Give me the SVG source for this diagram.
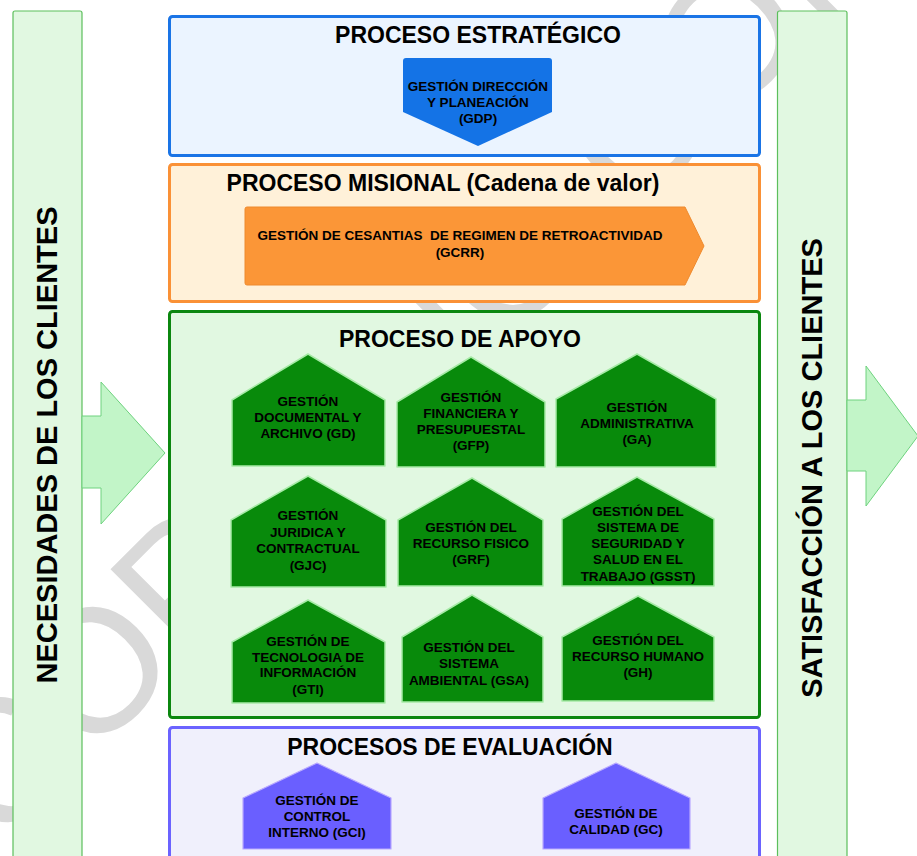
<svg xmlns="http://www.w3.org/2000/svg" width="917" height="856" viewBox="0 0 917 856">
<defs>
<style>
.t{font-family:"Liberation Sans",Arial,sans-serif;font-weight:bold;fill:#000;text-anchor:middle}
.title{font-size:23px}
.lbl{font-size:13.5px}
.side{font-size:29px}
.bar{fill:#e1f8e1;stroke:#5cbf5c;stroke-width:1.2}
.arr{fill:#c2f5c8;stroke:#6ed27e;stroke-width:1}
.house{fill:#088a0b;stroke:#a6eaa6;stroke-width:1.5;stroke-linejoin:round}
.ehouse{fill:#6a5fff;stroke:#b9a9ff;stroke-width:1.2;stroke-linejoin:round}
.wm{font-family:"Liberation Sans",Arial,sans-serif;font-size:175px;fill:#d9d9d9}
</style>
</defs>
<rect width="917" height="856" fill="#fff"/>
<g id="watermark">
<text class="wm" transform="translate(0,850) rotate(-45)">COPIA NO CONTROLADA</text>
</g>
<g id="necesidades">
<rect class="bar" x="13" y="11" width="69" height="860" rx="2"/>
<text class="t side" transform="translate(57,445) rotate(-90)">NECESIDADES DE LOS CLIENTES</text>
</g>
<g id="satisfaccion">
<rect class="bar" x="777.5" y="11" width="69.5" height="860" rx="2"/>
<text class="t side" transform="translate(822,468) rotate(-90)">SATISFACCIÓN A LOS CLIENTES</text>
</g>
<g id="connectors">
<path class="arr" d="M82,416 H101 V382 L165,453 L101,524 V488 H82 Z"/>
<path class="arr" d="M847,400 H866 V366 L918,436 L866,506 V471 H847 Z"/>
</g>
<g id="estrategico">
<rect x="169.5" y="16.5" width="590" height="139" rx="3" fill="#ebf4ff" stroke="#1a74e6" stroke-width="3"/>
<text class="t title" x="478" y="43">PROCESO ESTRATÉGICO</text>
<g id="gdp">
<path d="M406,58 H549 Q552,58 552,61 V112 L478,146 L403,112 V61 Q403,58 406,58 Z" fill="#1473e6"/>
<text class="t lbl" x="478" y="91">GESTIÓN DIRECCIÓN</text>
<text class="t lbl" x="478" y="107">Y PLANEACIÓN</text>
<text class="t lbl" x="478" y="123">(GDP)</text>
</g>
</g>
<g id="misional">
<rect x="169.5" y="164.5" width="590" height="137" rx="3" fill="#fff1d9" stroke="#fa9136" stroke-width="3"/>
<text class="t title" x="443" y="191">PROCESO MISIONAL (Cadena de valor)</text>
<g id="gcrr">
<path d="M247,207 H685 L704,246 L685,285 H247 Q245,285 245,283 V209 Q245,207 247,207 Z" fill="#fb9637" stroke="#ee8a2e" stroke-width="1"/>
<text class="t lbl" x="460" y="240" xml:space="preserve">GESTIÓN DE CESANTIAS  DE REGIMEN DE RETROACTIVIDAD</text>
<text class="t lbl" x="460" y="257">(GCRR)</text>
</g>
</g>
<g id="apoyo">
<rect x="169.5" y="311.5" width="590" height="406" rx="3" fill="#e1f8e1" stroke="#0b870f" stroke-width="3"/>
<text class="t title" x="460" y="347">PROCESO DE APOYO</text>
<g id="gd">
<path class="house" d="M232,400 L308,354 L385,400 V466 H232 Z"/>
<text class="t lbl" x="308" y="406">GESTIÓN</text>
<text class="t lbl" x="308" y="422">DOCUMENTAL Y</text>
<text class="t lbl" x="308" y="438">ARCHIVO (GD)</text>
</g>
<g id="gfp">
<path class="house" d="M397,402 L471,357 L545,402 V467 H397 Z"/>
<text class="t lbl" x="471" y="402">GESTIÓN</text>
<text class="t lbl" x="471" y="418">FINANCIERA Y</text>
<text class="t lbl" x="471" y="434">PRESUPUESTAL</text>
<text class="t lbl" x="471" y="450">(GFP)</text>
</g>
<g id="ga">
<path class="house" d="M556,399 L637,354 L716,399 V467 H556 Z"/>
<text class="t lbl" x="637" y="412">GESTIÓN</text>
<text class="t lbl" x="637" y="428">ADMINISTRATIVA</text>
<text class="t lbl" x="637" y="444">(GA)</text>
</g>
<g id="gjc">
<path class="house" d="M231,520 L308,476 L386,520 V587 H231 Z"/>
<text class="t lbl" x="308" y="520">GESTIÓN</text>
<text class="t lbl" x="308" y="537">JURIDICA Y</text>
<text class="t lbl" x="308" y="553">CONTRACTUAL</text>
<text class="t lbl" x="308" y="570">(GJC)</text>
</g>
<g id="grf">
<path class="house" d="M398,520 L472,478 L543,520 V586 H398 Z"/>
<text class="t lbl" x="471" y="532">GESTIÓN DEL</text>
<text class="t lbl" x="471" y="548">RECURSO FISICO</text>
<text class="t lbl" x="471" y="564">(GRF)</text>
</g>
<g id="gsst">
<path class="house" d="M562,519 L637,477 L714,519 V586 H562 Z"/>
<text class="t lbl" x="638" y="516">GESTIÓN DEL</text>
<text class="t lbl" x="638" y="532">SISTEMA DE</text>
<text class="t lbl" x="638" y="548">SEGURIDAD Y</text>
<text class="t lbl" x="638" y="564">SALUD EN EL</text>
<text class="t lbl" x="638" y="581">TRABAJO (GSST)</text>
</g>
<g id="gti">
<path class="house" d="M232,642 L308,600 L385,642 V703 H232 Z"/>
<text class="t lbl" x="308" y="646">GESTIÓN DE</text>
<text class="t lbl" x="308" y="662">TECNOLOGIA DE</text>
<text class="t lbl" x="308" y="677">INFORMACIÓN</text>
<text class="t lbl" x="308" y="694">(GTI)</text>
</g>
<g id="gsa">
<path class="house" d="M402,637 L472,595 L543,637 V702 H402 Z"/>
<text class="t lbl" x="469" y="652">GESTIÓN DEL</text>
<text class="t lbl" x="469" y="668">SISTEMA</text>
<text class="t lbl" x="469" y="685">AMBIENTAL (GSA)</text>
</g>
<g id="gh">
<path class="house" d="M562,637 L638,596 L714,637 V701 H562 Z"/>
<text class="t lbl" x="638" y="645">GESTIÓN DEL</text>
<text class="t lbl" x="638" y="661">RECURSO HUMANO</text>
<text class="t lbl" x="638" y="677">(GH)</text>
</g>
</g>
<g id="evaluacion">
<rect x="169.5" y="727.5" width="590" height="140" rx="3" fill="#f0f0fc" stroke="#6b63ff" stroke-width="3"/>
<text class="t title" x="450" y="755">PROCESOS DE EVALUACIÓN</text>
<g id="gci">
<path class="ehouse" d="M243,798 L317,763 L391,798 V849 H243 Z"/>
<text class="t lbl" x="317" y="805">GESTIÓN DE</text>
<text class="t lbl" x="317" y="821">CONTROL</text>
<text class="t lbl" x="317" y="837">INTERNO (GCI)</text>
</g>
<g id="gc">
<path class="ehouse" d="M543,798 L616,763 L690,798 V849 H543 Z"/>
<text class="t lbl" x="616" y="818">GESTIÓN DE</text>
<text class="t lbl" x="616" y="834">CALIDAD (GC)</text>
</g>
</g>
</svg>
